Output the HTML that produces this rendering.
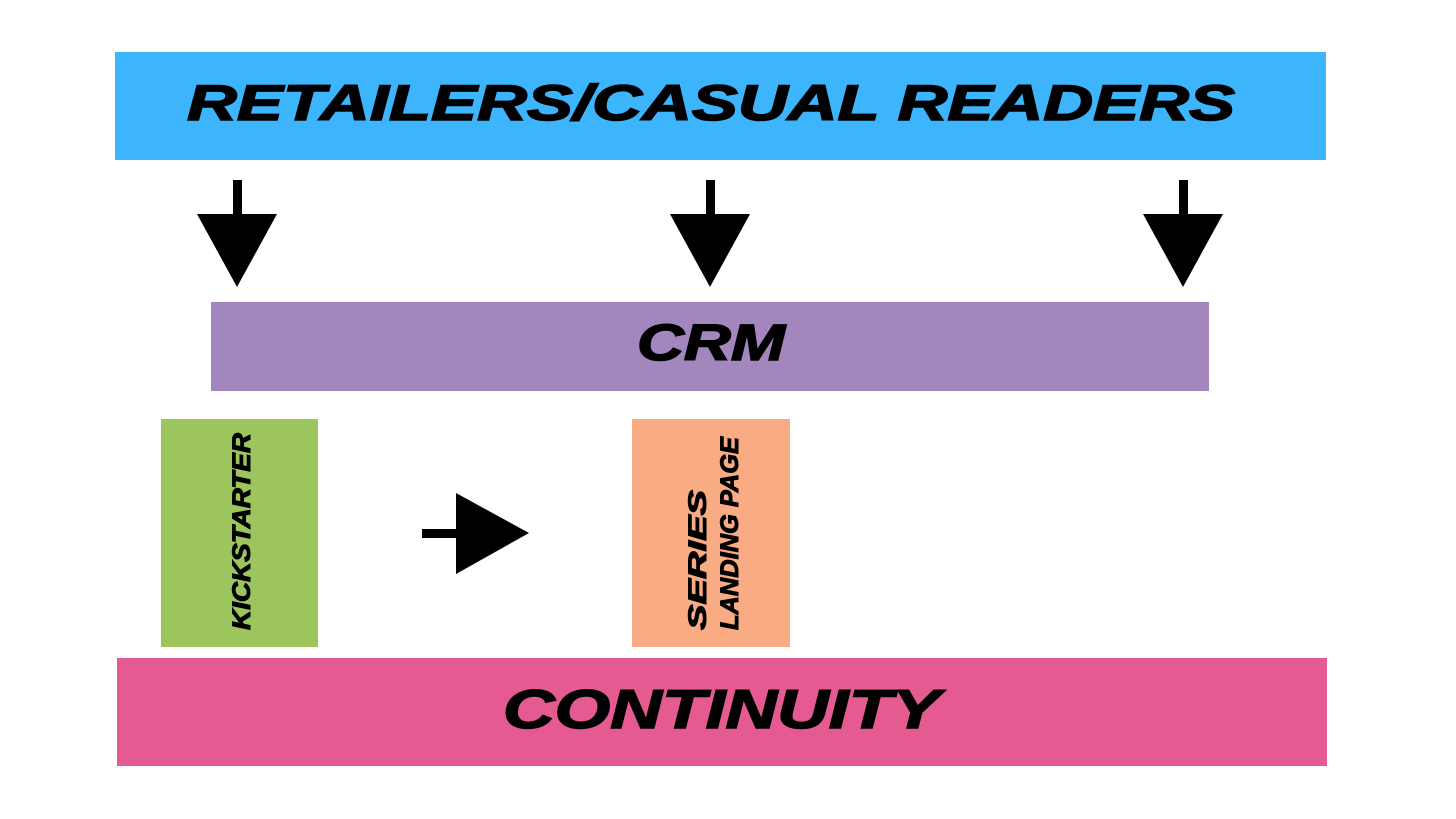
<!DOCTYPE html>
<html><head><meta charset="utf-8"><style>
html,body{margin:0;padding:0;background:#fff;}
svg{display:block}
text{font-family:"Liberation Sans",sans-serif;font-weight:bold;font-style:italic;fill:#000;stroke:#000;stroke-width:1.5;}
.v{stroke-width:1;}
</style></head><body>
<svg width="1456" height="819" viewBox="0 0 1456 819" xmlns="http://www.w3.org/2000/svg">
<rect x="115" y="52" width="1211" height="108" fill="#3db5fd"/>
<text x="187" y="120" font-size="50" textLength="1048" lengthAdjust="spacingAndGlyphs">RETAILERS/CASUAL READERS</text>

<g fill="#000">
<rect x="233" y="180" width="9" height="36"/>
<polygon points="197,214 277,214 237,287"/>
<rect x="706" y="180" width="9" height="36"/>
<polygon points="670,214 750,214 710,287"/>
<rect x="1179" y="180" width="9" height="36"/>
<polygon points="1143,214 1223,214 1183,287"/>
<rect x="422" y="529" width="36" height="9"/>
<polygon points="456,493 456,574 529,533"/>
</g>

<rect x="211" y="302" width="998" height="89" fill="#a286bd"/>
<text x="637" y="360" font-size="51" textLength="148" lengthAdjust="spacingAndGlyphs">CRM</text>

<rect x="161" y="419" width="157" height="228" fill="#9dc55e"/>
<text class="v" transform="translate(250,630) rotate(-90)" font-size="25" textLength="197" lengthAdjust="spacingAndGlyphs">KICKSTARTER</text>

<rect x="632" y="419" width="158" height="228" fill="#f9ac84"/>
<text class="v" transform="translate(706,630) rotate(-90)" font-size="25" textLength="140" lengthAdjust="spacingAndGlyphs">SERIES</text>
<text class="v" transform="translate(738,630) rotate(-90)" font-size="25" textLength="193" lengthAdjust="spacingAndGlyphs">LANDING PAGE</text>

<rect x="117" y="658" width="1210" height="108" fill="#e55a91"/>
<text x="503" y="728" font-size="55" textLength="437" lengthAdjust="spacingAndGlyphs">CONTINUITY</text>
</svg>
</body></html>
